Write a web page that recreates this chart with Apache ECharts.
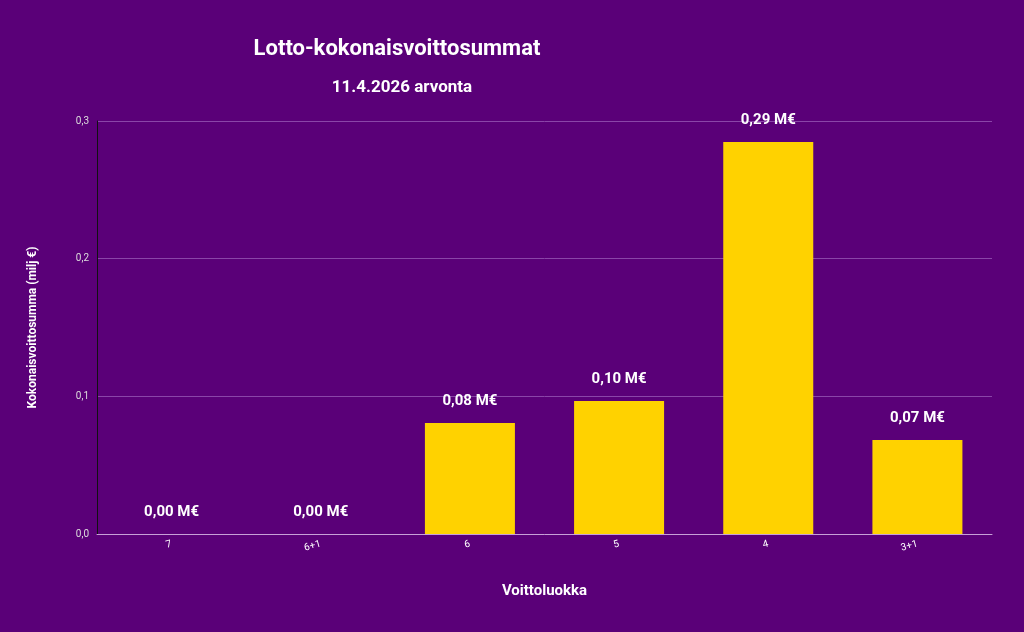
<!DOCTYPE html><html><head><meta charset="utf-8"><script src="https://cdn.jsdelivr.net/npm/echarts@6/dist/echarts.min.js"></script>
<style>html,body{margin:0;background:#5a0078}#c{width:1024px;height:632px}</style></head><body><div id="c"></div><script>
const categories=['7','6+1','6','5','4','3+1'];
const values=[0,0,0.0806,0.0966,0.2847,0.0683];
const labels=['0,00 M€','0,00 M€','0,08 M€','0,10 M€','0,29 M€','0,07 M€'];
const yTicks=[0,0.1,0.2,0.3];
const c=echarts.init(document.getElementById('c'));
const f='Roboto, Arial, sans-serif';
c.setOption({backgroundColor:'#5a0078',animation:false,
title:[{text:'Lotto-kokonaisvoittosummat',left:392,top:33,textAlign:'center',textStyle:{color:'#fff',fontSize:22,fontWeight:'bold',fontFamily:f}},
{text:'11.4.2026 arvonta',left:397,top:74,textAlign:'center',textStyle:{color:'#fff',fontSize:17,fontWeight:'bold',fontFamily:f}}],
grid:{left:97,right:32,top:121,bottom:98},
xAxis:{type:'category',data:categories,name:'Voittoluokka',nameLocation:'middle',nameGap:50,nameTextStyle:{color:'#fff',fontSize:15,fontWeight:'bold',fontFamily:f},
axisLine:{lineStyle:{color:'#c8a0d8'}},axisTick:{show:false},axisLabel:{color:'#fff',rotate:15,margin:10,fontSize:10,fontFamily:f}},
yAxis:{type:'value',min:0,max:0.3,interval:0.1,name:'Kokonaisvoittosumma (milj €)',nameLocation:'middle',nameGap:58,nameTextStyle:{color:'#fff',fontSize:12,fontWeight:'bold',fontFamily:f},
axisLine:{show:true,lineStyle:{color:'#111'}},axisTick:{show:false},axisLabel:{color:'#ddd',fontSize:10,fontFamily:f,formatter:v=>{const t=yTicks.find(x=>Math.abs(x-v)<1e-9);return (t??v).toFixed(1).replace('.',',');}},
splitLine:{lineStyle:{color:'#8a45a8'}}},
series:[{type:'bar',data:values,barWidth:90,itemStyle:{color:'#ffd200'},
label:{show:true,position:'top',distance:14,color:'#fff',fontSize:15,fontWeight:'bold',fontFamily:f,formatter:p=>labels[p.dataIndex]}}]});
</script></body></html>
